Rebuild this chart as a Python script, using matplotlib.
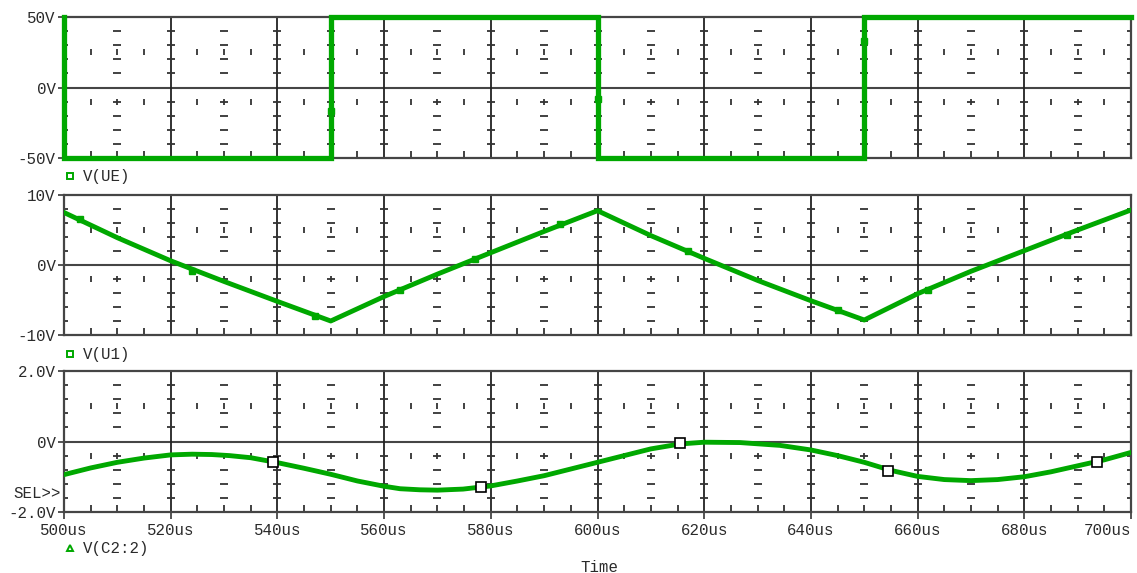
import matplotlib
matplotlib.use("Agg")
import matplotlib.pyplot as plt
import numpy as np

# ---------------- data ----------------
t_ue = [500, 500, 550, 550, 600, 600, 650, 650, 700]
v_ue = [50, -50, -50, 50, 50, -50, -50, 50, 50]
t_ue_mk = [550, 600, 650]
v_ue_mk = [-17, -8.5, 33]

t_u1 = [500, 510, 520, 530, 540, 550, 560, 570, 580, 590, 600,
        610, 620, 630, 640, 650, 660, 670, 680, 690, 700]
v_u1 = [7.5, 3.9, 0.6, -2.35, -5.2, -8.0, -4.5, -1.3, 1.76, 4.8, 7.76,
        4.2, 0.95, -2.2, -5.1, -7.86, -4.1, -0.9, 2.05, 5.0, 7.86]
t_u1_mk = [503, 524, 547, 563, 577, 593, 617, 645, 662, 688]
v_u1_mk = [6.6, -0.9, -7.3, -3.5, 0.9, 5.8, 2.0, -6.4, -3.5, 4.3]

t_c2 = [500, 505, 510, 515, 520, 524, 527.7, 531, 535, 540, 545, 550, 555,
        560, 563, 566.7, 570, 574.8, 580, 585, 590, 595, 600, 605, 610, 615.5,
        620, 626.7, 634.2, 640, 645, 650, 655, 660, 665, 670, 675, 680, 685,
        690, 695, 700]
v_c2 = [-0.94, -0.75, -0.59, -0.47, -0.38, -0.36, -0.37, -0.40, -0.46, -0.60,
        -0.76, -0.93, -1.12, -1.27, -1.34, -1.37, -1.38, -1.35, -1.26, -1.12,
        -0.97, -0.78, -0.59, -0.40, -0.21, -0.07, -0.02, -0.03, -0.11, -0.24,
        -0.40, -0.59, -0.82, -0.99, -1.08, -1.11, -1.08, -1.0, -0.86, -0.69,
        -0.52, -0.31]
t_c2_mk = [539.1, 578.2, 615.5, 654.4, 693.6]
v_c2_mk = [-0.59, -1.30, -0.04, -0.83, -0.59]

x_ticks = [500, 520, 540, 560, 580, 600, 620, 640, 660, 680, 700]
x_ticklabels = ["500us", "520us", "540us", "560us", "580us", "600us",
                "620us", "640us", "660us", "680us", "700us"]
panels = [
    dict(ymax=50, labels=["-50V", "0V", "50V"], legend="V(UE)", mk="s"),
    dict(ymax=10, labels=["-10V", "0V", "10V"], legend="V(U1)", mk="s"),
    dict(ymax=2.0, labels=["-2.0V", "0V", "2.0V"], legend="V(C2:2)", mk="^"),
]

# ---------------- style ----------------
W, H = 1137, 573
GREEN = "#00a800"
GRID = "#454545"
TXT = "#2a2a2a"
FONT = "Liberation Mono"
FS = 11.3

fig = plt.figure(figsize=(W / 100, H / 100), dpi=100)

def px_axes(x0, y0, x1, y1):
    return fig.add_axes([x0 / W, 1 - y1 / H, (x1 - x0) / W, (y1 - y0) / H])

boxes = [(64, 17, 1131, 158), (64, 195, 1131, 335), (64, 371, 1131, 512)]
axes = [px_axes(*b) for b in boxes]

for ax, p in zip(axes, panels):
    Y = p["ymax"]
    ax.set_xlim(500, 700)
    ax.set_ylim(-Y, Y)
    for s in ax.spines.values():
        s.set_color(GRID)
        s.set_linewidth(1.6)
    ax.axhline(0, color=GRID, lw=1.5, zorder=1)
    for xm in x_ticks[1:-1]:
        ax.axvline(xm, color="#222222", lw=1.3, zorder=1)
    # dashed minor grid marks
    xd = np.arange(500, 701, 10)
    yd = [k * Y / 5 for k in (-4, -3, -2, -1, 1, 2, 3, 4)]
    XX, YY = np.meshgrid(xd, yd)
    ax.plot(XX.ravel(), YY.ravel(), ls="none", marker="_", ms=6, mew=1.3,
            color="#333333", zorder=1)
    xv = [x for x in np.arange(505, 700, 5) if x % 20 != 0]
    for yv in (Y / 2, -Y / 5):
        ax.plot(xv, [yv] * len(xv), ls="none", marker="|", ms=5, mew=1.3,
                color="#333333", zorder=1)
    ax.set_xticks(x_ticks)
    ax.set_xticks(list(range(505, 700, 5)), minor=True)
    ax.set_yticks([-Y, 0, Y])
    ax.set_yticklabels(p["labels"], fontfamily=FONT, fontsize=FS, color=TXT)
    ax.tick_params(axis="y", which="major", direction="out", length=4,
                   width=1.3, color=GRID, pad=2)
    ax.tick_params(axis="x", which="minor", direction="in", length=5,
                   width=1.3, color="#333333", top=False)
    ax.tick_params(axis="x", which="major", direction="out", length=5,
                   width=1.3, color=GRID)
    if ax is not axes[2]:
        ax.set_xticklabels([])
        ax.tick_params(axis="x", which="major", length=0)
    else:
        lbls = ax.set_xticklabels(x_ticklabels, fontfamily=FONT, fontsize=FS,
                                  color=TXT)
        lbls[-1].set_horizontalalignment("right")
        ax.tick_params(axis="x", which="major", pad=3)

# traces
axes[0].plot(t_ue, v_ue, color=GREEN, lw=3.8, clip_on=False, zorder=3,
             solid_joinstyle="miter")
axes[0].plot(t_ue_mk, v_ue_mk, ls="none", marker="s", ms=5, color=GREEN,
             zorder=4)
axes[1].plot(t_u1, v_u1, color=GREEN, lw=3.5, zorder=3)
axes[1].plot(t_u1_mk, v_u1_mk, ls="none", marker="s", ms=4.5, color=GREEN,
             zorder=4)
axes[2].plot(t_c2, v_c2, color=GREEN, lw=3.5, zorder=3)
axes[2].plot(t_c2_mk, v_c2_mk, ls="none", marker="s", ms=7, mfc="white",
             mec="black", mew=1.2, zorder=5)

# legend entries under each panel
leg_y = [176, 354, 548]
for p, yy in zip(panels, leg_y):
    fig.add_artist(plt.Line2D([70 / W], [1 - yy / H], marker=p["mk"],
                              ms=5, mfc="none", mec=GREEN, mew=1.4,
                              ls="none", transform=fig.transFigure))
    fig.text(83 / W, 1 - yy / H, p["legend"], fontfamily=FONT, fontsize=FS,
             color=TXT, va="center", ha="left")

fig.text(13 / W, 1 - 494 / H, "SEL>>", fontfamily=FONT, fontsize=FS,
         color=TXT, va="center", ha="left")
fig.text(599 / W, 1 - 567 / H, "Time", fontfamily=FONT, fontsize=FS,
         color=TXT, va="center", ha="center")

fig.savefig("out.png", dpi=100)
